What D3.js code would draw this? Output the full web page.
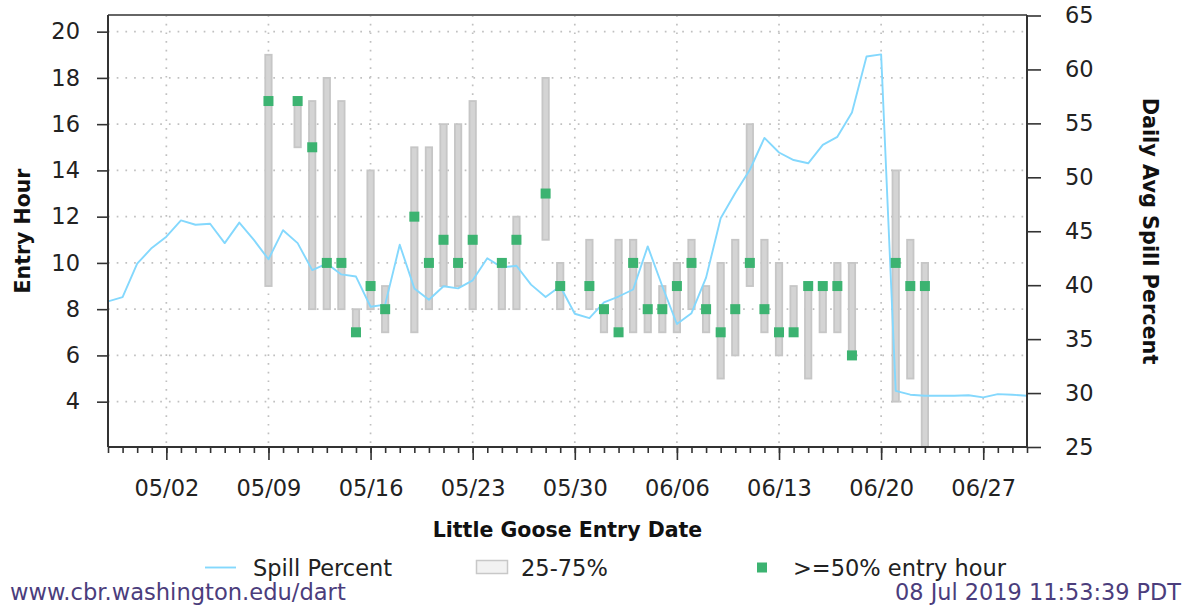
<!DOCTYPE html>
<html><head><meta charset="utf-8">
<script src="https://cdn.jsdelivr.net/npm/d3@7/dist/d3.min.js"></script>
<style>body{margin:0;background:#fff}svg{display:block}</style>
</head><body>
<svg id="c" width="1188" height="609"></svg>
<script>
// ---------------- data ----------------
const spillStart = "2019-04-28";
const spillEnd = "2019-06-30";
const spillPercent = [38.5, 38.9, 42.0, 43.45, 44.5, 46.0, 45.6, 45.7, 43.9, 45.8, 44.2, 42.4, 45.1, 43.9, 41.4, 42.0, 41.0, 40.8, 38.0, 38.2, 43.75, 39.7, 38.65, 39.9, 39.7, 40.45, 42.5, 41.65, 41.8, 40.05, 38.9, 39.9, 37.35, 36.95, 38.4, 38.95, 39.6, 43.6, 39.9, 36.4, 37.4, 40.7, 46.2, 48.55, 50.7, 53.65, 52.3, 51.6, 51.3, 53.0, 53.75, 56.0, 61.2, 61.4, 30.2, 29.85, 29.75, 29.75, 29.75, 29.8, 29.6, 29.9, 29.85, 29.75];
const entryDates = ["05/09","05/11","05/12","05/13","05/14","05/15","05/16","05/17","05/19","05/20","05/21","05/22","05/23","05/25","05/26","05/28","05/29","05/31","06/01","06/02","06/03","06/04","06/05","06/06","06/07","06/08","06/09","06/10","06/11","06/12","06/13","06/14","06/15","06/16","06/17","06/18","06/21","06/22","06/23"];
const q25 = [9,15,8,8,8,7,8,7,7,8,9,9,8,8,8,11,8,8,7,7,7,7,7,7,8,7,5,6,9,7,6,7,5,7,7,6,4,5,2];
const q75 = [19,17,17,18,17,8,14,9,15,15,16,16,17,10,12,18,10,11,8,11,11,10,9,10,11,9,10,11,16,11,10,9,9,9,10,10,14,11,10];
const medianHour = [17,17,15,10,10,7,9,8,12,10,11,10,11,10,11,13,9,9,8,7,10,8,8,9,10,8,7,8,10,8,7,7,9,9,9,6,10,9,9];
const xTickLabels = ["05/02","05/09","05/16","05/23","05/30","06/06","06/13","06/20","06/27"];
const leftTicks = [4,6,8,10,12,14,16,18,20];
const rightTicks = [25,30,35,40,45,50,55,60,65];
const legendLabels = ["Spill Percent","25-75%",">=50% entry hour"];

// ---------------- chart ----------------
const FONT = "'DejaVu Sans', Verdana, sans-serif";
const parseMD = s => d3.timeParse("%Y/%m/%d")("2019/" + s);
const parseISO = d3.timeParse("%Y-%m-%d");
const svg = d3.select("#c");
const L = 108, R = 1027, T = 15, B = 447;

const x = d3.scaleTime().domain([parseISO(spillStart), parseISO(spillEnd)]).range([L, R]);
const yL = d3.scaleLinear().domain([2.04, 20.72]).range([B, T]);
const yR = d3.scaleLinear().domain([25, 65]).range([B, T + 0.5]);

svg.append("defs").append("clipPath").attr("id", "clip")
  .append("rect").attr("x", L).attr("y", T).attr("width", R - L).attr("height", B - T);

// grid
const grid = svg.append("g");
grid.selectAll("line.h").data(leftTicks).join("line")
  .attr("x1", L).attr("x2", R).attr("y1", d => yL(d)).attr("y2", d => yL(d))
  .attr("stroke", "#c0c0c0").attr("stroke-width", 1.7).attr("stroke-dasharray", "1.7,7");
grid.selectAll("line.v").data(xTickLabels.map(parseMD)).join("line")
  .attr("x1", d => x(d)).attr("x2", d => x(d)).attr("y1", T).attr("y2", B)
  .attr("stroke", "#c0c0c0").attr("stroke-width", 1.7).attr("stroke-dasharray", "1.7,7");

const plot = svg.append("g").attr("clip-path", "url(#clip)");

// bars
const bars = entryDates.map((d, i) => ({date: parseMD(d), lo: q25[i], hi: q75[i], med: medianHour[i]}));
plot.selectAll("rect.bar").data(bars).join("rect")
  .attr("x", d => x(d.date) - 3.2).attr("width", 6.4)
  .attr("y", d => yL(d.hi)).attr("height", d => yL(d.lo) - yL(d.hi))
  .attr("fill", "#d4d4d4").attr("stroke", "#c6c6c6").attr("stroke-width", 1.8);

// spill line
const spillDates = d3.timeDay.range(parseISO(spillStart), d3.timeDay.offset(parseISO(spillEnd), 1));
const spill = spillDates.map((d, i) => ({date: d, v: spillPercent[i]}));
plot.append("path").datum(spill)
  .attr("fill", "none").attr("stroke", "#84d8fd").attr("stroke-width", 1.9)
  .attr("stroke-linejoin", "round")
  .attr("d", d3.line().x(d => x(d.date)).y(d => yR(d.v)));

// median markers
plot.selectAll("rect.med").data(bars).join("rect")
  .attr("x", d => x(d.date) - 5).attr("y", d => yL(d.med) - 5)
  .attr("width", 10).attr("height", 10).attr("fill", "#3cb371");

// axes
function styleAxis(g, size) {
  g.selectAll("text").attr("font-family", FONT).attr("font-size", size).attr("fill", "#222");
  g.selectAll("line").attr("stroke", "#333").attr("stroke-width", 1.6);
  g.select(".domain").remove();
}
const ax1 = svg.append("g").attr("transform", `translate(0,${B})`)
  .call(d3.axisBottom(x).ticks(d3.timeDay.every(1)).tickSize(6).tickSizeOuter(0).tickFormat(""));
styleAxis(ax1, 22.5);
const ax2 = svg.append("g").attr("transform", `translate(0,${B})`)
  .call(d3.axisBottom(x).tickValues(xTickLabels.map(parseMD)).tickSize(13).tickSizeOuter(0)
    .tickPadding(20).tickFormat(d3.timeFormat("%m/%d")));
styleAxis(ax2, 22.5);
const ay1 = svg.append("g").attr("transform", `translate(${L},0)`)
  .call(d3.axisLeft(yL).tickValues(leftTicks).tickSize(11).tickSizeOuter(0).tickPadding(17));
styleAxis(ay1, 22.5);
const ay2 = svg.append("g").attr("transform", `translate(${R},0)`)
  .call(d3.axisRight(yR).tickValues(rightTicks).tickSize(14).tickSizeOuter(0).tickPadding(24));
styleAxis(ay2, 22.5);

// frame
svg.append("line").attr("x1", L).attr("x2", R).attr("y1", T).attr("y2", T).attr("stroke", "#666").attr("stroke-width", 2.2);
svg.append("line").attr("x1", L).attr("x2", R).attr("y1", B).attr("y2", B).attr("stroke", "#333").attr("stroke-width", 2);
svg.append("line").attr("x1", L).attr("x2", L).attr("y1", T).attr("y2", B).attr("stroke", "#333").attr("stroke-width", 2);
svg.append("line").attr("x1", R).attr("x2", R).attr("y1", T).attr("y2", B).attr("stroke", "#333").attr("stroke-width", 2);

// titles
svg.append("text").attr("x", (L + R) / 2).attr("y", 537).attr("text-anchor", "middle")
  .attr("font-family", FONT).attr("font-weight", "bold").attr("font-size", 20.5).attr("fill", "#111")
  .text("Little Goose Entry Date");
svg.append("text").attr("transform", `translate(30,${(T + B) / 2}) rotate(-90)`).attr("text-anchor", "middle")
  .attr("font-family", FONT).attr("font-weight", "bold").attr("font-size", 20.5).attr("fill", "#111")
  .text("Entry Hour");
svg.append("text").attr("transform", `translate(1143,${(T + B) / 2}) rotate(90)`).attr("text-anchor", "middle")
  .attr("font-family", FONT).attr("font-weight", "bold").attr("font-size", 20.8).attr("fill", "#111")
  .text("Daily Avg Spill Percent");

// legend
const lg = svg.append("g").attr("font-family", FONT).attr("font-size", 22.5).attr("fill", "#222");
lg.append("line").attr("x1", 205).attr("x2", 236).attr("y1", 567.5).attr("y2", 567.5)
  .attr("stroke", "#84d8fd").attr("stroke-width", 1.9);
lg.append("text").attr("x", 253).attr("y", 576).text(legendLabels[0]);
lg.append("rect").attr("x", 476.5).attr("y", 560.5).attr("width", 31).attr("height", 13)
  .attr("fill", "#f2f2f2").attr("stroke", "#c8c8c8").attr("stroke-width", 1.5);
lg.append("text").attr("x", 521).attr("y", 576).text(legendLabels[1]);
lg.append("rect").attr("x", 757).attr("y", 562.5).attr("width", 10).attr("height", 10).attr("fill", "#3cb371");
lg.append("text").attr("x", 793).attr("y", 576).text(legendLabels[2]);

// footer
svg.append("text").attr("x", 10).attr("y", 600).attr("font-family", FONT).attr("font-size", 22.6)
  .attr("fill", "#4b3d7c").text("www.cbr.washington.edu/dart");
svg.append("text").attr("x", 1181).attr("y", 600).attr("text-anchor", "end").attr("font-family", FONT).attr("font-size", 22.4)
  .attr("fill", "#4b3d7c").text("08 Jul 2019 11:53:39 PDT");
</script>
</body></html>
